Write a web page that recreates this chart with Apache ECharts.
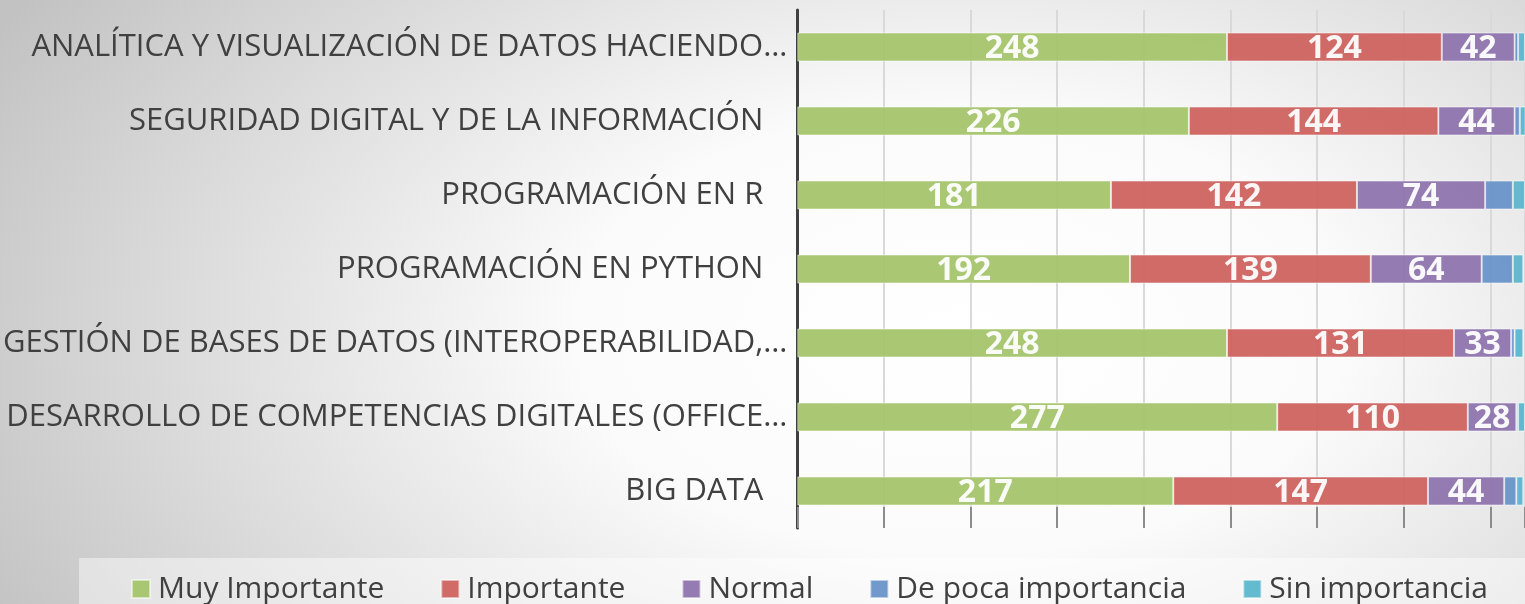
<!DOCTYPE html>
<html>
<head>
<meta charset="utf-8">
<script src="https://cdn.jsdelivr.net/npm/echarts@6/dist/echarts.min.js"></script>
<style>
  html, body { margin: 0; padding: 0; }
  #chart {
    width: 1525px;
    height: 604px;
    background: radial-gradient(ellipse 72% 105% at 63% 55%, #ffffff 0%, #fbfbfb 35%, #c2c2c2 100%);
  }
</style>
</head>
<body>
<div id="chart"></div>
<script>
// categories, top to bottom
const categories = [
  'ANALÍTICA Y VISUALIZACIÓN DE DATOS HACIENDO…',
  'SEGURIDAD DIGITAL Y DE LA INFORMACIÓN',
  'PROGRAMACIÓN EN R',
  'PROGRAMACIÓN EN PYTHON',
  'GESTIÓN DE BASES DE DATOS (INTEROPERABILIDAD,…',
  'DESARROLLO DE COMPETENCIAS DIGITALES (OFFICE…',
  'BIG DATA'
]
const seriesNames = ['Muy Importante', 'Importante', 'Normal', 'De poca importancia', 'Sin importancia']
const muyImportante = [248, 226, 181, 192, 248, 277, 217]
const importante = [124, 144, 142, 139, 131, 110, 147]
const normal = [42, 44, 74, 64, 33, 28, 44]
const pocaImportancia = [2, 3, 16, 18, 2, 1, 7]
const sinImportancia = [4, 4, 7, 6, 5, 4, 4]
const colors = ['#a5c46c', '#cd6360', '#8e74ae', '#6a93c8', '#5cb6cc']

var myChart = echarts.init(document.getElementById('chart'))

function makeSeries(name, data, idx, showLabel) {
  return {
    name: name,
    type: 'bar',
    stack: 'total',
    data: data,
    barWidth: 29,
    itemStyle: {
      color: colors[idx],
      opacity: 0.95,
      borderColor: 'rgba(255,255,255,0.55)',
      borderWidth: 1
    },
    label: {
      show: showLabel,
      position: 'inside',
      color: '#ffffff',
      fontFamily: 'Open Sans',
      fontWeight: 'bold',
      fontSize: 32,
      offset: [0, 2]
    }
  }
}

myChart.setOption({
  backgroundColor: 'transparent',
  animation: false,
  color: colors,
  grid: {
    left: 797,
    right: 0,
    top: 10,
    bottom: 76
  },
  graphic: [
    {
      type: 'rect',
      left: 79,
      top: 558,
      shape: { width: 1446, height: 46 },
      style: { fill: 'rgba(255,255,255,0.45)' },
      z: 0
    }
  ],
  legend: {
    data: seriesNames,
    left: 131,
    top: 574,
    padding: 0,
    itemWidth: 18,
    itemHeight: 18,
    itemGap: 56,
    icon: 'rect',
    textStyle: {
      fontFamily: 'Open Sans',
      fontSize: 30,
      color: '#404040',
      padding: [0, 0, 0, 3]
    }
  },
  xAxis: {
    type: 'value',
    min: 0,
    max: 420,
    interval: 50,
    axisLine: { show: false },
    axisTick: {
      show: true,
      inside: true,
      length: 21,
      lineStyle: { color: '#8c8c8c', width: 2 }
    },
    axisLabel: { show: false },
    splitLine: {
      show: true,
      lineStyle: { color: '#d9d9d9', width: 2 }
    }
  },
  yAxis: {
    type: 'category',
    inverse: true,
    data: categories,
    axisLine: {
      show: true,
      lineStyle: { color: '#404040', width: 3 }
    },
    axisTick: { show: false },
    axisLabel: {
      margin: 10,
      fontFamily: 'Open Sans',
      fontSize: 31,
      color: '#404040',
      formatter: function (v) {
        return v.endsWith('…') ? '{e|' + v + '}' : '{n|' + v + '}'
      },
      rich: {
        e: { fontFamily: 'Open Sans', fontSize: 31, color: '#404040' },
        n: { fontFamily: 'Open Sans', fontSize: 31, color: '#404040', padding: [0, 24, 0, 0] }
      }
    }
  },
  series: [
    makeSeries(seriesNames[0], muyImportante, 0, true),
    makeSeries(seriesNames[1], importante, 1, true),
    makeSeries(seriesNames[2], normal, 2, true),
    makeSeries(seriesNames[3], pocaImportancia, 3, false),
    makeSeries(seriesNames[4], sinImportancia, 4, false)
  ]
})
</script>
</body>
</html>
